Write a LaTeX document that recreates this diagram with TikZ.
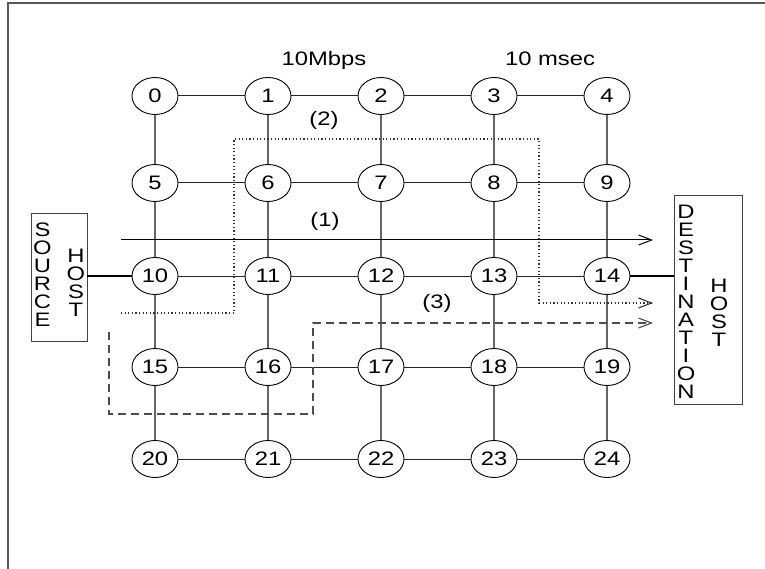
\documentclass[tikz,border=0pt]{standalone}
\usepackage{fontspec}
\setmainfont[FakeStretch=1.22]{Liberation Sans}
\usetikzlibrary{shapes.geometric,arrows.meta}
\newcommand\figfont{\fontsize{19.5}{18}\selectfont}
\begin{document}
\begin{tikzpicture}[x=1pt,y=-1pt,
  nd/.style={ellipse,draw,line width=0.9pt,minimum width=46pt,minimum height=37pt,inner sep=0pt,font=\figfont},
  hl/.style={line width=1pt,black!85},
  vl/.style={line width=1.4pt,black!60},
  hostbox/.style={draw,line width=0.9pt,black!75,inner sep=0pt},
  stack/.style={align=center,inner sep=0pt,font=\figfont},
  lbl/.style={inner sep=0pt,font=\figfont},
  tip/.style={-{Straight Barb[length=13pt,width=10pt]}},
  flow/.style={tip,line width=1pt},
  dotflow/.style={tip,line width=1.1pt,black!80,dash pattern=on 1.2pt off 2.4pt},
  dashflow/.style={tip,line width=1.1pt,black!70,dash pattern=on 8pt off 5pt},
  link/.style={line width=2.4pt},
  frame/.style={line width=1.2pt,black!65}
]
\useasboundingbox (0,0) rectangle (765,569);
% frame
\coordinate (f1) at (8,569);
\coordinate (f2) at (8,3);
\coordinate (f3) at (765,3);
\draw[frame] (f1) -- (f2) -- (f3);

% grid nodes
\foreach \r/\y in {0/96,1/183,2/276,3/367,4/459}{
  \foreach \c/\x in {0/155,1/268,2/381,3/494,4/607}{
    \pgfmathtruncatemacro\n{5*\r+\c}
    \node[nd] (n\n) at (\x,\y) {\n};
  }
}
% horizontal links
\foreach \r in {0,...,4}{
  \foreach \c in {0,...,3}{
    \pgfmathtruncatemacro\a{5*\r+\c}
    \pgfmathtruncatemacro\b{5*\r+\c+1}
    \draw[hl] (n\a) -- (n\b);
  }
}
% vertical links
\foreach \r in {0,...,3}{
  \foreach \c in {0,...,4}{
    \pgfmathtruncatemacro\a{5*\r+\c}
    \pgfmathtruncatemacro\b{5*\r+\c+5}
    \draw[vl] (n\a) -- (n\b);
  }
}

% labels
\node[lbl,anchor=base] (bw) at (324,65.7) {10Mbps};
\node[lbl,anchor=base] (dl) at (550,65.7) {10 msec};
\node[lbl] (l2) at (324,120) {(2)};
\node[lbl] (l1) at (325,221) {(1)};
\node[lbl] (l3) at (437,303) {(3)};

% flows
\coordinate (p1s) at (121,240);
\coordinate (p1e) at (653,240);
\draw[flow] (p1s) -- (p1e);

\coordinate (p2a) at (121,313);
\coordinate (p2b) at (234,313);
\coordinate (p2c) at (234,139);
\coordinate (p2d) at (539,139);
\coordinate (p2e) at (539,303);
\coordinate (p2f) at (653,303);
\draw[dotflow] (p2a) -- (p2b) -- (p2c) -- (p2d) -- (p2e) -- (p2f);

\coordinate (p3a) at (109,332);
\coordinate (p3b) at (109,414);
\coordinate (p3c) at (313,414);
\coordinate (p3d) at (313,323);
\coordinate (p3e) at (653,323);
\draw[dashflow] (p3a) -- (p3b) -- (p3c) -- (p3d) -- (p3e);

% hosts
\node[hostbox,minimum width=56pt,minimum height=128pt] (src) at (59,277) {};
\node[stack] (srcA) at (42.5,274.5) {S\\O\\U\\R\\C\\E};
\node[stack] (srcB) at (76,283) {H\\O\\S\\T};
\node[hostbox,minimum width=68pt,minimum height=209pt] (dst) at (708,299.5) {};
\node[stack] (dstA) at (686,301.5) {D\\E\\S\\T\\I\\N\\A\\T\\I\\O\\N};
\node[stack] (dstB) at (719,313) {H\\O\\S\\T};

\draw[link] (n10.west) -- (n10.west -| src.east);
\draw[link] (n14.east) -- (n14.east -| dst.west);
\end{tikzpicture}
\end{document}
